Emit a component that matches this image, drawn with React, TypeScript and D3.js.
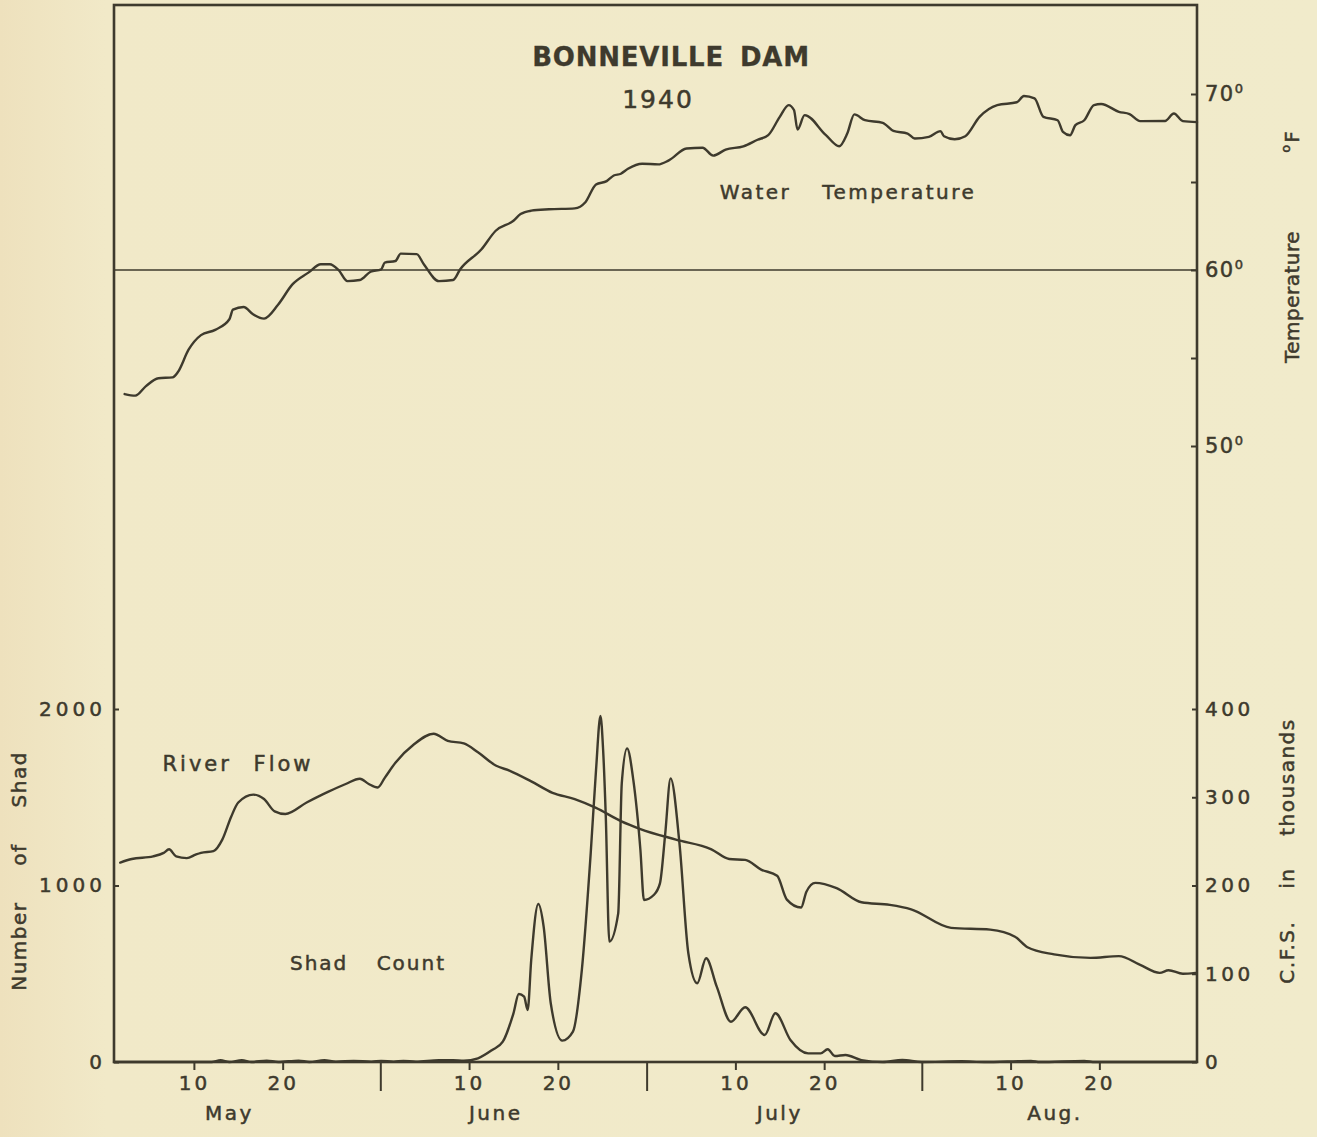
import { useEffect, useRef } from "react";
import * as d3 from "d3";

// days are counted from May 1, 1940 (0 = May 1)
const tempDays = [1.2, 2.4, 3.6, 5.0, 6.6, 7.2, 8.4, 9.8, 11.4, 13.0, 13.4, 14.6, 15.7, 16.9, 18.5, 20.1, 21.9, 23.3, 24.3, 25.3, 26.3, 27.7, 28.9, 30.1, 30.5, 31.7, 32.3, 34.1, 34.9, 36.6, 38.2, 39.0, 41.4, 43.0, 45.0, 45.8, 47.0, 49.0, 51.9, 53.1, 54.3, 55.5, 56.3, 57.1, 57.9, 59.5, 61.3, 62.5, 64.5, 66.3, 67.5, 68.9, 70.9, 72.5, 73.7, 75.0, 76.0, 76.6, 77.0, 77.8, 80.2, 81.7, 82.6, 83.4, 84.6, 86.6, 87.8, 89.4, 90.2, 91.8, 93.1, 93.5, 94.7, 95.9, 97.5, 99.5, 101.7, 102.5, 103.7, 104.7, 106.3, 106.9, 107.7, 108.3, 109.3, 110.4, 111.2, 113.2, 114.4, 115.6, 118.4, 119.4, 120.4, 122.0];
const tempValues = [52.95, 52.86, 53.4, 53.85, 53.9, 54.2, 55.47, 56.3, 56.6, 57.2, 57.75, 57.9, 57.47, 57.24, 58.04, 59.18, 59.85, 60.33, 60.33, 60.0, 59.37, 59.43, 59.9, 60.04, 60.42, 60.51, 60.93, 60.9, 60.33, 59.37, 59.43, 60.04, 61.18, 62.23, 62.8, 63.18, 63.37, 63.45, 63.5, 63.85, 64.86, 65.05, 65.37, 65.47, 65.75, 66.04, 66.0, 66.23, 66.9, 66.95, 66.5, 66.84, 67.03, 67.4, 67.66, 68.7, 69.37, 69.09, 67.98, 68.8, 67.66, 67.03, 67.75, 68.84, 68.51, 68.36, 67.9, 67.75, 67.47, 67.56, 67.89, 67.6, 67.43, 67.6, 68.7, 69.37, 69.53, 69.89, 69.75, 68.7, 68.51, 67.85, 67.66, 68.23, 68.51, 69.37, 69.43, 68.99, 68.86, 68.46, 68.47, 68.89, 68.46, 68.4];

// river flow, thousands of c.f.s.
const flowDays = [0.7, 2.0, 4.4, 5.6, 6.2, 7.0, 8.2, 9.2, 9.8, 11.2, 12.2, 13.2, 14.0, 15.7, 16.9, 18.1, 19.3, 21.7, 24.1, 26.1, 27.7, 28.7, 29.7, 30.5, 31.7, 33.8, 36.0, 37.6, 39.4, 41.0, 43.0, 44.6, 47.0, 49.4, 51.9, 54.3, 57.1, 59.3, 63.3, 67.3, 69.3, 71.1, 72.9, 74.7, 75.8, 77.4, 78.0, 79.0, 81.4, 84.2, 87.4, 89.8, 94.3, 98.7, 101.5, 102.9, 105.9, 110.0, 113.2, 115.6, 117.8, 118.8, 120.4, 121.8];
const flowValues = [226, 230, 233, 237, 241, 233, 231, 235, 237, 239, 252, 278, 294, 303, 298, 284, 281, 294, 306, 315, 321, 315, 311, 322, 339, 360, 372, 364, 361, 351, 336, 330, 318, 305, 298, 288, 273, 264, 252, 241, 230, 229, 218, 211, 184, 175, 193, 203, 197, 181, 178, 173, 152, 150, 142, 130, 122, 118, 120, 110, 101, 104, 100, 101];

// number of shad counted
const shadDays = [0, 11, 12, 13, 14.4, 15.5, 17.2, 18.5, 20.8, 22, 23.7, 25, 27, 29, 30.1, 31.5, 32.6, 34, 36.6, 38.2, 39.4, 41.0, 42.6, 43.8, 45.0, 45.6, 46.2, 46.6, 47.0, 47.8, 48.4, 49.2, 50.5, 51.7, 52.7, 53.7, 54.3, 54.8, 55.1, 55.4, 55.8, 56.8, 57.2, 57.8, 58.5, 59.3, 59.7, 60.8, 61.5, 62.1, 62.7, 63.7, 64.7, 65.7, 66.7, 67.9, 69.5, 71.1, 73.3, 74.5, 76.2, 78.2, 79.6, 80.4, 81.2, 82.4, 84.2, 86.6, 88.8, 91.0, 95.5, 98, 103.3, 104.3, 109.3, 110.5, 122];
const shadValues = [0, 0, 10, 0, 10, 0, 8, 0, 8, 0, 10, 2, 6, 2, 6, 2, 6, 2, 10, 10, 7, 21, 68, 115, 276, 385, 370, 295, 578, 895, 767, 333, 121, 172, 521, 1182, 1654, 1960, 1768, 1390, 682, 842, 1579, 1777, 1598, 1201, 918, 946, 1012, 1296, 1607, 1239, 616, 446, 588, 427, 228, 310, 153, 276, 125, 49, 49, 72, 34, 40, 11, 0, 11, 0, 4, 0, 6, 0, 6, 0, 0];

const shadTicks = [0, 1000, 2000];
const flowTicks = [0, 100, 200, 300, 400];
const tempTicks = [50, 55, 60, 65, 70];
const tempLabels = [50, 60, 70];
const dayTicks = ["1940-05-10", "1940-05-20", "1940-06-10", "1940-06-20", "1940-07-10", "1940-07-20", "1940-08-10", "1940-08-20"];
const monthEnds = ["1940-05-31", "1940-06-30", "1940-07-31"];
const monthNames = ["May", "June", "July", "Aug."];
const monthLabelDates = ["1940-05-14", "1940-06-13", "1940-07-15", "1940-08-15"];

const W = 1317;
const H = 1137;
const INK = "#3e3a2d";
const FONT = "'DejaVu Sans', sans-serif";

const App = () => {
    const chartRef = useRef<SVGSVGElement>(null);

    useEffect(() => {
        const svg = d3.select(chartRef.current);
        svg.selectAll("*").remove();

        const frame = { left: 114, right: 1197, top: 5, bottom: 1062 };
        const parse = d3.utcParse("%Y-%m-%d");
        const start = Date.UTC(1940, 4, 1);
        const dayToDate = (d: number) => new Date(start + d * 864e5);

        const x = d3
            .scaleUtc()
            .domain([new Date(start), new Date(Date.UTC(1940, 7, 31))])
            .range([frame.left, frame.right]);
        const yTemp = d3.scaleLinear().domain([50, 70]).range([446, 94]);
        const yShad = d3.scaleLinear().domain([0, 2000]).range([frame.bottom, 709]);
        const yFlow = d3.scaleLinear().domain([0, 400]).range([frame.bottom, 709]);

        // paper background
        const grad = svg.append("defs").append("linearGradient").attr("id", "paper");
        grad.append("stop").attr("offset", "0").attr("stop-color", "#eee1bd");
        grad.append("stop").attr("offset", "0.08").attr("stop-color", "#f1e9c8");
        grad.append("stop").attr("offset", "1").attr("stop-color", "#f1ebcb");
        svg.append("rect").attr("width", W).attr("height", H).attr("fill", "url(#paper)");

        // 60 degree reference line
        svg
            .append("line")
            .attr("x1", frame.left)
            .attr("x2", frame.right)
            .attr("y1", yTemp(60))
            .attr("y2", yTemp(60))
            .attr("stroke", INK)
            .attr("stroke-width", 1.6);

        // curves
        const drawLine = (days: number[], values: number[], y: d3.ScaleLinear<number, number>) => {
            const pts = days.map((d, i) => [d, values[i]] as [number, number]);
            const line = d3
                .line<[number, number]>()
                .x((d) => x(dayToDate(d[0])))
                .y((d) => y(d[1]))
                .curve(d3.curveMonotoneX);
            svg
                .append("path")
                .datum(pts)
                .attr("d", line)
                .attr("fill", "none")
                .attr("stroke", INK)
                .attr("stroke-width", 2.4)
                .attr("stroke-linejoin", "round")
                .attr("stroke-linecap", "round");
        };
        drawLine(tempDays, tempValues, yTemp);
        drawLine(flowDays, flowValues, yFlow);
        drawLine(shadDays, shadValues, yShad);

        // frame
        svg
            .append("rect")
            .attr("x", frame.left)
            .attr("y", frame.top)
            .attr("width", frame.right - frame.left)
            .attr("height", frame.bottom - frame.top)
            .attr("fill", "none")
            .attr("stroke", INK)
            .attr("stroke-width", 2.6);

        const styleAxis = (g: d3.Selection<SVGGElement, unknown, null, undefined>, size: number, spacing: number) => {
            g.select(".domain").remove();
            g.selectAll(".tick line").attr("stroke", INK).attr("stroke-width", 2);
            g.selectAll(".tick text")
                .attr("fill", INK)
                .attr("stroke", INK)
                .attr("stroke-width", 0.5)
                .attr("font-family", FONT)
                .attr("font-size", size)
                .attr("letter-spacing", spacing);
        };

        // left axis: number of shad
        svg
            .append("g")
            .attr("transform", `translate(${frame.left},0)`)
            .call(d3.axisLeft(yShad).tickValues(shadTicks).tickSize(-5).tickPadding(8).tickFormat(d3.format("d")))
            .call((g) => styleAxis(g, 20, 4));

        // right axis: river flow
        svg
            .append("g")
            .attr("transform", `translate(${frame.right},0)`)
            .call(d3.axisRight(yFlow).tickValues(flowTicks).tickSize(-5).tickPadding(8).tickFormat(d3.format("d")))
            .call((g) => styleAxis(g, 20, 3.5));

        // right axis: temperature
        const tempAxis = svg
            .append("g")
            .attr("transform", `translate(${frame.right},0)`)
            .call(
                d3
                    .axisRight(yTemp)
                    .tickValues(tempTicks)
                    .tickSize(-6)
                    .tickPadding(8)
                    .tickFormat((d) => (tempLabels.includes(+d) ? String(d) : ""))
            )
            .call((g) => styleAxis(g, 21, 1.5));
        tempAxis
            .selectAll<SVGTextElement, number>(".tick text")
            .filter((d) => tempLabels.includes(d))
            .append("tspan")
            .attr("font-size", 13)
            .attr("dy", "-0.6em")
            .attr("dx", 0)
            .text("0");

        // bottom axis: days
        svg
            .append("g")
            .attr("transform", `translate(0,${frame.bottom})`)
            .call(
                d3
                    .axisBottom(x)
                    .tickValues(dayTicks.map((s) => parse(s) as Date))
                    .tickSize(8)
                    .tickPadding(6)
                    .tickFormat((d) => d3.utcFormat("%-d")(d as Date))
            )
            .call((g) => styleAxis(g, 20, 3));

        // month boundaries
        svg
            .append("g")
            .attr("transform", `translate(0,${frame.bottom})`)
            .call(
                d3
                    .axisBottom(x)
                    .tickValues(monthEnds.map((s) => parse(s) as Date))
                    .tickSize(29)
                    .tickFormat(() => "")
            )
            .call((g) => styleAxis(g, 18, 0));

        // month names
        svg
            .append("g")
            .selectAll("text")
            .data(monthNames)
            .join("text")
            .attr("x", (_, i) => x(parse(monthLabelDates[i]) as Date))
            .attr("y", 1120)
            .attr("text-anchor", "middle")
            .attr("fill", INK)
            .attr("stroke", INK)
            .attr("stroke-width", 0.5)
            .attr("font-family", FONT)
            .attr("font-size", 20)
            .attr("letter-spacing", 2.5)
            .text((d) => d);

        const label = (
            txt: string,
            px: number,
            py: number,
            opts: { size?: number; spacing?: number; word?: number; rotate?: boolean; weight?: string } = {}
        ) =>
            svg
                .append("text")
                .attr("transform", `translate(${px},${py})${opts.rotate ? " rotate(-90)" : ""}`)
                .attr("text-anchor", "middle")
                .attr("fill", INK)
                .attr("stroke", INK)
                .attr("stroke-width", opts.weight === "bold" ? 0.3 : 0.5)
                .attr("font-family", FONT)
                .attr("font-size", opts.size ?? 20)
                .attr("font-weight", opts.weight ?? "normal")
                .attr("letter-spacing", opts.spacing ?? 0)
                .attr("word-spacing", opts.word ?? 0)
                .text(txt);

        label("BONNEVILLE DAM", 671, 66, { size: 26, weight: "bold", spacing: 0.8, word: 6 });
        label("1940", 658, 108, { size: 25, spacing: 2 });
        label("Water Temperature", 848, 199, { size: 20, spacing: 2.5, word: 22 });
        label("River Flow", 238, 771, { size: 21, spacing: 3, word: 12 });
        label("Shad Count", 368, 970, { size: 20, spacing: 2, word: 20 });

        label("Number of Shad", 26, 871, { size: 20, spacing: 1.5, word: 28, rotate: true });
        label("Temperature", 1299, 297, { size: 20, spacing: 0.5, rotate: true });
        label("C.F.S. in thousands", 1294, 851, { size: 20, spacing: 1.5, word: 24, rotate: true });

        // degrees F, rotated
        const deg = svg
            .append("text")
            .attr("transform", "translate(1299,142) rotate(-90)")
            .attr("text-anchor", "middle")
            .attr("fill", INK)
            .attr("stroke", INK)
            .attr("stroke-width", 0.5)
            .attr("font-family", FONT)
            .attr("font-size", 20);
        deg.append("tspan").attr("font-size", 13).attr("dy", -9).text("o");
        deg.append("tspan").attr("dy", 9).attr("dx", 2).text("F");
    }, []);

    return (
        <svg
            ref={chartRef}
            width={W}
            height={H}
            style={{ position: "absolute", left: 0, top: 0, display: "block" }}
        ></svg>
    );
};

export default App;
